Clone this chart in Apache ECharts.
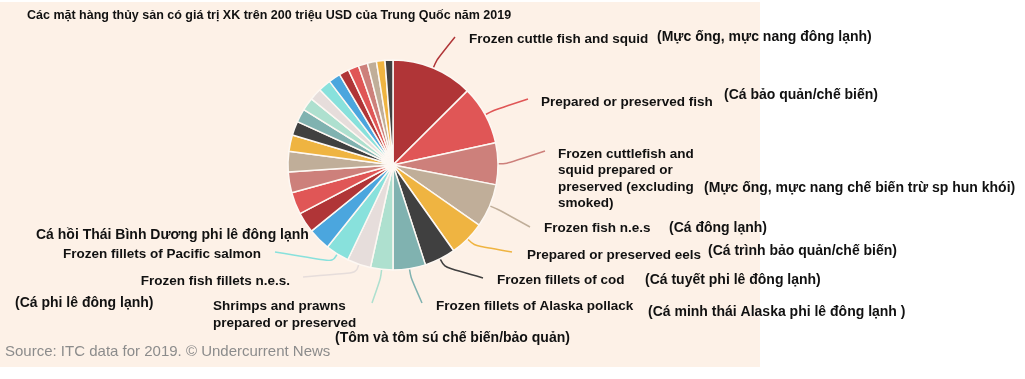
<!DOCTYPE html>
<html><head><meta charset="utf-8">
<script src="https://cdn.jsdelivr.net/npm/echarts@6/dist/echarts.min.js"></script>
<style>html,body{margin:0;padding:0;background:#fff}#c{width:1025px;height:379px}</style>
</head><body><div id="c"></div>
<script>
// ---- data ----
const titleText = 'Các mặt hàng thủy sản có giá trị XK trên 200 triệu USD của Trung Quốc năm 2019';
const sourceText = 'Source: ITC data for 2019. © Undercurrent News';
const categories = [
  'Frozen cuttle fish and squid',
  'Prepared or preserved fish',
  'Frozen cuttlefish and\nsquid prepared or\npreserved (excluding\nsmoked)',
  'Frozen fish n.e.s',
  'Prepared or preserved eels',
  'Frozen fillets of cod',
  'Frozen fillets of Alaska pollack',
  'Shrimps and prawns\nprepared or preserved',
  'Frozen fish fillets n.e.s.',
  'Frozen fillets of Pacific salmon',
  'Item 11','Item 12','Item 13','Item 14','Item 15','Item 16','Item 17','Item 18','Item 19',
  'Item 20','Item 21','Item 22','Item 23','Item 24','Item 25','Item 26','Item 27','Item 28'
];
// estimated export values (million USD)
const values = [2075, 1500, 1067, 1104, 911, 796, 828, 570, 603, 603, 570, 524, 566, 529, 520,
  419, 359, 340, 331, 313, 322, 304, 253, 271, 235, 230, 216, 202];
const labelledCount = 10;
const translations = [
  '(Mực ống, mực nang đông lạnh)',
  '(Cá bảo quản/chế biến)',
  '(Mực ống, mực nang chế biến trừ sp hun khói)',
  '(Cá đông lạnh)',
  '(Cá trình bảo quản/chế biến)',
  '(Cá tuyết phi lê đông lạnh)',
  '(Cá minh thái Alaska phi lê đông lạnh )',
  '(Tôm và tôm sú chế biến/bảo quản)',
  '(Cá phi lê đông lạnh)',
  'Cá hồi Thái Bình Dương phi lê đông lạnh'
];

// ---- styles / layout ----
const palette = ['#b03537', '#e05656', '#cd807b', '#c0ae99', '#efb441', '#404040',
  '#80b2b0', '#aee0cf', '#e6dddb', '#88e1dc', '#4ba6de'];
const labelPos = [ // [x, y, align, verticalAlign]
  [469, 39, 'left', 'middle'],
  [541, 102, 'left', 'middle'],
  [558, 146, 'left', 'top'],
  [544, 228, 'left', 'middle'],
  [527, 255, 'left', 'middle'],
  [497, 280, 'left', 'middle'],
  [436, 306, 'left', 'middle'],
  [213, 315, 'left', 'middle'],
  [290, 281, 'right', 'middle'],
  [261, 254, 'right', 'middle']
];
const leaderEnds = [
  [455, 37], [528, 99], [545, 151], [530, 227], [512, 252],
  [483, 278], [422, 303], [372, 303], [303, 277], [275, 252]
];
const translationPos = [
  [657, 37], [724, 95], [704, 188], [669, 228], [708, 251],
  [645, 280], [648, 312], [335, 338], [15, 303], [36, 235]
];

const chart = echarts.init(document.getElementById('c'), null, {renderer: 'canvas'});
const FONT = '"Liberation Sans", Arial, sans-serif';

const graphics = [
  {type: 'rect', z: -10, silent: true, shape: {x: 0, y: 2, width: 760, height: 365}, style: {fill: '#fdf1e7'}},
  {type: 'text', left: 27, top: 9, style: {text: titleText, font: 'bold 12.5px ' + FONT, fill: '#111'}},
  {type: 'text', left: 5, top: 344, style: {text: sourceText, font: '15px ' + FONT, fill: '#8c8c8c'}}
];
translations.forEach((t, i) => {
  graphics.push({type: 'text', x: translationPos[i][0], y: translationPos[i][1],
    style: {text: t, font: 'bold 14px ' + FONT, fill: '#111', verticalAlign: 'middle', align: 'left'}});
});

chart.setOption({
  animation: false,
  backgroundColor: '#ffffff',
  graphic: graphics,
  series: [{
    type: 'pie',
    center: [393, 165],
    radius: [0, 105],
    startAngle: 90,
    clockwise: true,
    avoidLabelOverlap: false,
    emphasis: {disabled: true},
    itemStyle: {borderColor: '#fdf8f3', borderWidth: 1.5},
    label: {
      show: true, position: 'outside', alignTo: 'none',
      fontFamily: FONT, fontSize: 13.5, fontWeight: 'bold', color: '#111', lineHeight: 16.5,
      formatter: p => p.name
    },
    labelLine: {show: true, length: 10, length2: 10, smooth: 0.35, lineStyle: {width: 1.5}},
    labelLayout: function (params) {
      const i = params.dataIndex;
      if (i >= labelledCount) return {};
      const pts = params.labelLinePoints;
      const p0 = pts[0], p1 = pts[1];
      const dx = p1[0] - p0[0], dy = p1[1] - p0[1];
      const len = Math.sqrt(dx * dx + dy * dy) || 1;
      const mid = [p0[0] + dx / len * 9, p0[1] + dy / len * 9];
      const lp = labelPos[i];
      return {
        x: lp[0], y: lp[1], align: lp[2], verticalAlign: lp[3],
        labelLinePoints: [p0, mid, leaderEnds[i]]
      };
    },
    data: categories.map((n, i) => ({
      name: n, value: values[i],
      itemStyle: {color: palette[i % palette.length]},
      label: {show: i < labelledCount},
      labelLine: {show: i < labelledCount}
    }))
  }]
});
</script>
</body></html>
